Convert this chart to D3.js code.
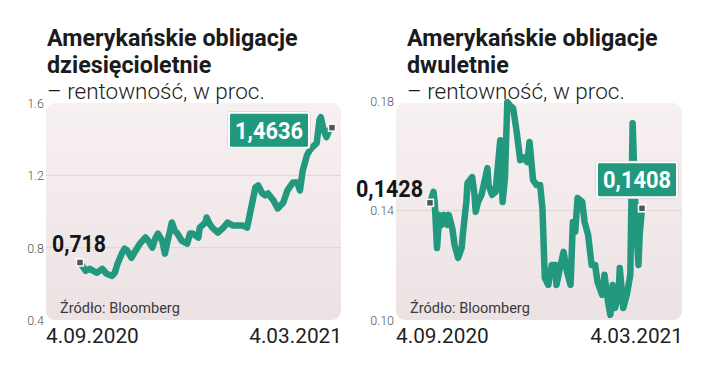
<!DOCTYPE html>
<html lang="pl">
<head>
<meta charset="utf-8">
<title>obligacje</title>
<script src="https://cdn.jsdelivr.net/npm/d3@7"></script>
<style>
  body { margin: 0; background: #fff; }
  svg text { font-family: Roboto, "Noto Sans", sans-serif; }
</style>
</head>
<body>
<div id="chart"></div>
<script>

// 10-letnie: dni od 4.09.2020 i rentownosc
var tenDays = [0,4,7,12,16,19,23,25,27,30,32,34,37,39,43,47,49,52,54,56,59,61,63,66,68,70,73,77,79,81,85,86,90,91,93,95,99,103,106,110,113,117,120,123,126,128,131,133,135,139,142,146,149,153,156,158,160,163,165,167,170,172,173,175,177,179,181]
var tenVals = [0.718,0.672,0.683,0.661,0.683,0.656,0.644,0.661,0.711,0.767,0.794,0.783,0.744,0.772,0.822,0.856,0.839,0.800,0.850,0.878,0.839,0.767,0.839,0.939,0.894,0.878,0.839,0.822,0.878,0.878,0.856,0.911,0.939,0.967,0.933,0.911,0.883,0.911,0.939,0.922,0.922,0.922,0.911,1.022,1.133,1.144,1.100,1.089,1.100,1.061,1.017,1.050,1.117,1.161,1.161,1.117,1.228,1.311,1.339,1.356,1.378,1.506,1.522,1.450,1.411,1.450,1.4636]

// 2-letnie
var twoDays = [0,3,4,6,8,10,12,15,16,19,21,24,27,28,31,32,36,38,39,41,44,49,50,53,56,57,60,61,62,64,66,68,71,74,77,79,83,85,88,91,94,96,98,101,104,107,108,111,114,117,120,122,124,126,130,132,135,138,141,143,147,149,152,154,156,158,161,162,165,168,171,173,176,178,179,181]
var twoVals = [0.1428,0.1468,0.1431,0.1263,0.1384,0.1347,0.1384,0.1347,0.1384,0.1336,0.1274,0.1227,0.1263,0.1311,0.1431,0.1500,0.1522,0.1457,0.1395,0.1431,0.1457,0.1555,0.1493,0.1457,0.1468,0.1519,0.1657,0.1577,0.1431,0.1519,0.1796,0.1785,0.1774,0.1687,0.1584,0.1595,0.1577,0.1650,0.1511,0.1493,0.1493,0.1409,0.1154,0.1128,0.1201,0.1201,0.1128,0.1190,0.1249,0.1176,0.1128,0.1358,0.1322,0.1446,0.1431,0.1358,0.1311,0.1201,0.1201,0.1139,0.1092,0.1165,0.1066,0.1019,0.1128,0.1044,0.1092,0.1190,0.1044,0.1092,0.1165,0.1719,0.1336,0.1201,0.1311,0.1408]

var tenTicks = [0.4,0.8,1.2,1.6]
var twoTicks = [0.10,0.14,0.18]
var dateLabels = ["4.09.2020","4.03.2021"]

var teal = "#22997f"

var svg = d3.select("#chart")
    .append("svg")
    .attr("width",720)
    .attr("height",375)

var defs = svg.append("defs")
var grad = defs.append("linearGradient")
    .attr("id","bg")
    .attr("x1",0).attr("y1",0).attr("x2",0).attr("y2",1)
grad.append("stop").attr("offset","0%").attr("stop-color","#f7f0f1")
grad.append("stop").attr("offset","100%").attr("stop-color","#ece2e3")

function drawChart(cfg){
    var g = svg.append("g")

    var x = d3.scaleLinear()
        .domain([0,181])
        .range([cfg.x0,cfg.x1])
    var y = d3.scaleLinear()
        .domain(cfg.domain)
        .range([cfg.yBottom,cfg.yTop])

    // panel
    g.append("rect")
        .attr("x",cfg.px0)
        .attr("y",103)
        .attr("width",cfg.px1-cfg.px0)
        .attr("height",217)
        .attr("rx",9)
        .attr("fill","url(#bg)")

    // grid
    g.selectAll(".grid")
        .data(cfg.ticks.slice(1,-1))
        .enter()
        .append("line")
        .attr("x1",cfg.px0)
        .attr("x2",cfg.px1)
        .attr("y1",function(d){ return y(d) })
        .attr("y2",function(d){ return y(d) })
        .attr("stroke","#e0d4d5")
        .attr("stroke-width",1)

    // y axis labels
    var axis = d3.axisLeft(y)
        .tickValues(cfg.ticks)
        .tickSize(0)
        .tickFormat(d3.format(cfg.fmt))
    var ax = g.append("g")
        .attr("transform","translate("+(cfg.px0-2)+",0)")
        .call(axis)
    ax.select(".domain").remove()
    ax.selectAll("text")
        .attr("font-size",12.5)
        .attr("fill","#555")
        .attr("font-family","Roboto, sans-serif")
        .attr("font-weight",300)
        .attr("dy","0.35em")
        .attr("x",0)

    // titles
    var t = g.append("text")
        .attr("x",cfg.tx)
        .attr("fill","#1b1b1b")
    t.append("tspan").attr("x",cfg.tx).attr("y",46)
        .attr("font-size",23.3).attr("font-weight","bold")
        .text("Amerykańskie obligacje")
    t.append("tspan").attr("x",cfg.tx).attr("y",73)
        .attr("font-size",23.3).attr("font-weight","bold")
        .text(cfg.title2)
    t.append("tspan").attr("x",cfg.tx).attr("y",99)
        .attr("font-size",22.5).attr("font-weight",300)
        .text("– rentowność, w proc.")

    // line
    var line = d3.line()
        .x(function(d){ return x(d[0]) })
        .y(function(d){ return y(d[1]) })
    var pts = d3.zip(cfg.days,cfg.vals)
    g.append("path")
        .datum(pts)
        .attr("d",line)
        .attr("fill","none")
        .attr("stroke",teal)
        .attr("stroke-width",6.5)
        .attr("stroke-linejoin","round")
        .attr("stroke-linecap","round")

    // markers
    var ends = [pts[0],pts[pts.length-1]]
    g.selectAll(".mark")
        .data(ends)
        .enter()
        .append("rect")
        .attr("x",function(d){ return x(d[0])-3.5 })
        .attr("y",function(d){ return y(d[1])-3.5 })
        .attr("width",7)
        .attr("height",7)
        .attr("fill","#555")
        .attr("stroke","#fff")
        .attr("stroke-width",1.5)

    // start value label
    var fmt = function(v){ return String(v).replace(".",",") }
    g.append("text")
        .attr("x",x(ends[0][0])+cfg.startDx)
        .attr("y",y(ends[0][1])+cfg.startDy)
        .attr("text-anchor",cfg.startAnchor)
        .attr("font-size",24)
        .attr("font-weight","bold")
        .attr("fill","#151515")
        .attr("textLength",cfg.startLen)
        .attr("lengthAdjust","spacingAndGlyphs")
        .text(fmt(ends[0][1]))

    // end value box
    var bx = x(ends[1][0])+cfg.boxDx
    var by = y(ends[1][1])+cfg.boxDy
    g.append("rect")
        .attr("x",bx-1).attr("y",by-1)
        .attr("width",82).attr("height",37)
        .attr("rx",3)
        .attr("fill","none")
        .attr("stroke","#c9c9c9")
        .attr("stroke-width",1)
    g.append("rect")
        .attr("x",bx).attr("y",by)
        .attr("width",80).attr("height",35)
        .attr("rx",2)
        .attr("fill",teal)
        .attr("stroke","#fff")
        .attr("stroke-width",2)
    g.append("text")
        .attr("x",bx+40).attr("y",by+26)
        .attr("text-anchor","middle")
        .attr("font-size",24.5)
        .attr("font-weight","bold")
        .attr("fill","#fff")
        .attr("textLength",68)
        .attr("lengthAdjust","spacingAndGlyphs")
        .text(fmt(ends[1][1]))

    // source
    g.append("text")
        .attr("x",cfg.px0+14)
        .attr("y",313)
        .attr("font-size",14.5)
        .attr("fill","#3a3a3a")
        .text("Źródło: Bloomberg")

    // dates
    g.append("text")
        .attr("x",cfg.px0)
        .attr("y",343)
        .attr("font-size",20.8)
        .attr("fill","#1f1f1f")
        .text(dateLabels[0])
    g.append("text")
        .attr("x",cfg.px1+1)
        .attr("y",343)
        .attr("text-anchor","end")
        .attr("font-size",20.8)
        .attr("fill","#1f1f1f")
        .text(dateLabels[1])
}

drawChart({
    days: tenDays, vals: tenVals, ticks: tenTicks, fmt: ".1f",
    domain: [0.4,1.6], yBottom: 320, yTop: 103,
    x0: 80, x1: 332, px0: 46, px1: 341, tx: 47,
    title2: "dziesięcioletnie",
    startDx: -28, startDy: -10, startAnchor: "start", startLen: 54,
    boxDx: -103, boxDy: -15
})

drawChart({
    days: twoDays, vals: twoVals, ticks: twoTicks, fmt: ".2f",
    domain: [0.10,0.18], yBottom: 320, yTop: 101,
    x0: 430, x1: 642, px0: 396, px1: 682, tx: 407,
    title2: "dwuletnie",
    startDx: -7, startDy: -6, startAnchor: "end", startLen: 67,
    boxDx: -45, boxDy: -46
})

</script>
</body>
</html>
